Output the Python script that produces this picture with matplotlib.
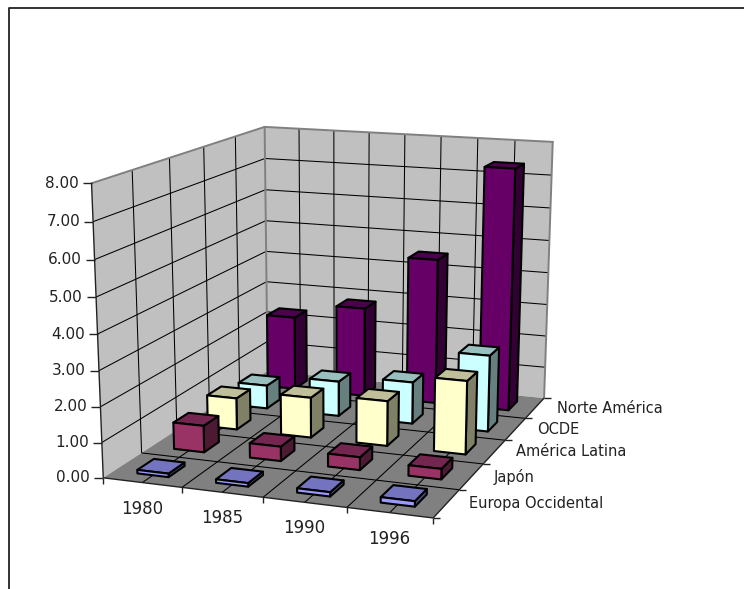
import numpy as np
import matplotlib
matplotlib.use("Agg")
import matplotlib.pyplot as plt
from matplotlib.patches import Polygon

years = ["1980", "1985", "1990", "1996"]
regions = ["Europa Occidental", "Japón", "América Latina", "OCDE", "Norte América"]
europa = [0.10, 0.10, 0.12, 0.15]
japon = [0.78, 0.42, 0.37, 0.30]
america_latina = [0.95, 1.20, 1.33, 2.15]
ocde = [0.72, 1.07, 1.27, 2.30]
norte_america = [2.32, 2.80, 4.50, 7.40]
z_ticks = [0, 1, 2, 3, 4, 5, 6, 7, 8]
series = [europa, japon, america_latina, ocde, norte_america]
colors = [("#9999FF", "#7373BF", "#4D4D80"),
          ("#993366", "#732650", "#4D1A33"),
          ("#FFFFCC", "#BFBF99", "#808066"),
          ("#CCFFFF", "#99BFBF", "#668080"),
          ("#660066", "#4D004D", "#330033")]

# camera: fitted from the plot box corners as seen on the canvas
box = [((0, 0, 0), (103, 478)), ((4, 0, 0), (433, 518)), ((4, 5, 0), (544, 398)),
       ((0, 5, 0), (268, 371)), ((0, 0, 8), (92, 183)), ((0, 5, 8), (264, 127)),
       ((4, 5, 8), (553, 142))]
A = []
for (X, Y, Z), (u, v) in box:
    A.append([X, Y, Z, 1, 0, 0, 0, 0, -u*X, -u*Y, -u*Z, -u])
    A.append([0, 0, 0, 0, X, Y, Z, 1, -v*X, -v*Y, -v*Z, -v])
P = np.linalg.svd(np.array(A, float))[2][-1].reshape(3, 4)


def pr(x, y, z):
    h = P @ np.array([x, y, z, 1.0])
    return h[0]/h[2], h[1]/h[2]


plt.rcParams["font.family"] = "DejaVu Sans"
fig = plt.figure(figsize=(7.44, 5.89), dpi=100)
ax = fig.add_axes([0, 0, 1, 1])
ax.set_xlim(0, 744)
ax.set_ylim(589, 0)
ax.axis("off")

nx, ny, nz = len(years), len(regions), z_ticks[-1]
GRID = dict(color="black", lw=0.75, solid_capstyle="butt")


def face(pts, fc, ec="none", lw=0, zo=1):
    ax.add_patch(Polygon([pr(*p) for p in pts], closed=True, fc=fc, ec=ec, lw=lw, zorder=zo, joinstyle="round"))


def seg(a, b, zo=2, **kw):
    pa, pb = pr(*a), pr(*b)
    ax.plot([pa[0], pb[0]], [pa[1], pb[1]], zorder=zo, **kw)


# border: top and left only
ax.plot([9, 9, 744], [589, 8, 8], color="#222222", lw=1.3, zorder=0)

# walls and floor
face([(0, 0, 0), (0, ny, 0), (0, ny, nz), (0, 0, nz)], "#C0C0C0")
face([(0, ny, 0), (nx, ny, 0), (nx, ny, nz), (0, ny, nz)], "#C0C0C0")
face([(0, 0, 0), (nx, 0, 0), (nx, ny, 0), (0, ny, 0)], "#808080")

for z in z_ticks[1:-1]:
    seg((0, 0, z), (0, ny, z), **GRID)
    seg((0, ny, z), (nx, ny, z), **GRID)
for x in np.arange(0.5, nx, 0.5):
    seg((x, ny, 0), (x, ny, nz), **GRID)
    seg((x, 0, 0), (x, ny, 0), **GRID)
for y in range(1, ny):
    seg((0, y, 0), (0, y, nz), **GRID)
    seg((0, y, 0), (nx, y, 0), **GRID)

# wall outlines
EDGE = dict(color="#808080", lw=1.4, solid_capstyle="round")
seg((0, 0, nz), (0, ny, nz), **EDGE)
seg((0, ny, nz), (nx, ny, nz), **EDGE)
seg((nx, ny, nz), (nx, ny, 0), **EDGE)
seg((0, ny, 0), (0, ny, nz), **EDGE)

# axis lines and ticks
AXIS = dict(color="#222222", lw=1.0, solid_capstyle="butt")
seg((0, 0, 0), (0, 0, nz), **AXIS)
seg((0, 0, 0), (nx, 0, 0), **AXIS)
seg((nx, 0, 0), (nx, ny, 0), **AXIS)
for z in z_ticks:
    u, v = pr(0, 0, z)
    ax.plot([u-9, u], [v, v], **AXIS)
    ax.text(u-13, v, f"{z:.2f}", ha="right", va="center", fontsize=11, color="#222222")
for i in range(nx+1):
    u, v = pr(i, 0, 0)
    ax.plot([u, u], [v, v+6], **AXIS)
for j in range(ny+1):
    u, v = pr(nx, j, 0)
    ax.plot([u, u+7], [v, v], **AXIS)
for i, lab in enumerate(years):
    u, v = pr(i+0.5, 0, 0)
    ax.text(u, v+26, lab, ha="center", va="center", fontsize=12, color="#222222")
for j, lab in enumerate(regions):
    u, v = pr(nx, j+0.5, 0)
    ax.text(u+22, v, lab, ha="left", va="center", fontsize=10.5, color="#222222")

# bars, back row first
WX, WY = 0.2, 0.22
for j in range(ny-1, -1, -1):
    front, top, side = colors[j]
    for i in range(nx):
        val = series[j][i]
        x0, x1 = i+0.5-WX, i+0.5+WX
        y0, y1 = j+0.5-WY, j+0.5+WY
        zo = 10+(ny-j)*10+i
        kw = dict(ec="black", lw=1.5, zo=zo)
        face([(x1, y0, 0), (x1, y1, 0), (x1, y1, val), (x1, y0, val)], side, **kw)
        face([(x0, y0, val), (x1, y0, val), (x1, y1, val), (x0, y1, val)], top, **kw)
        face([(x0, y0, 0), (x1, y0, 0), (x1, y0, val), (x0, y0, val)], front, **kw)

fig.savefig("out.png", dpi=100)
